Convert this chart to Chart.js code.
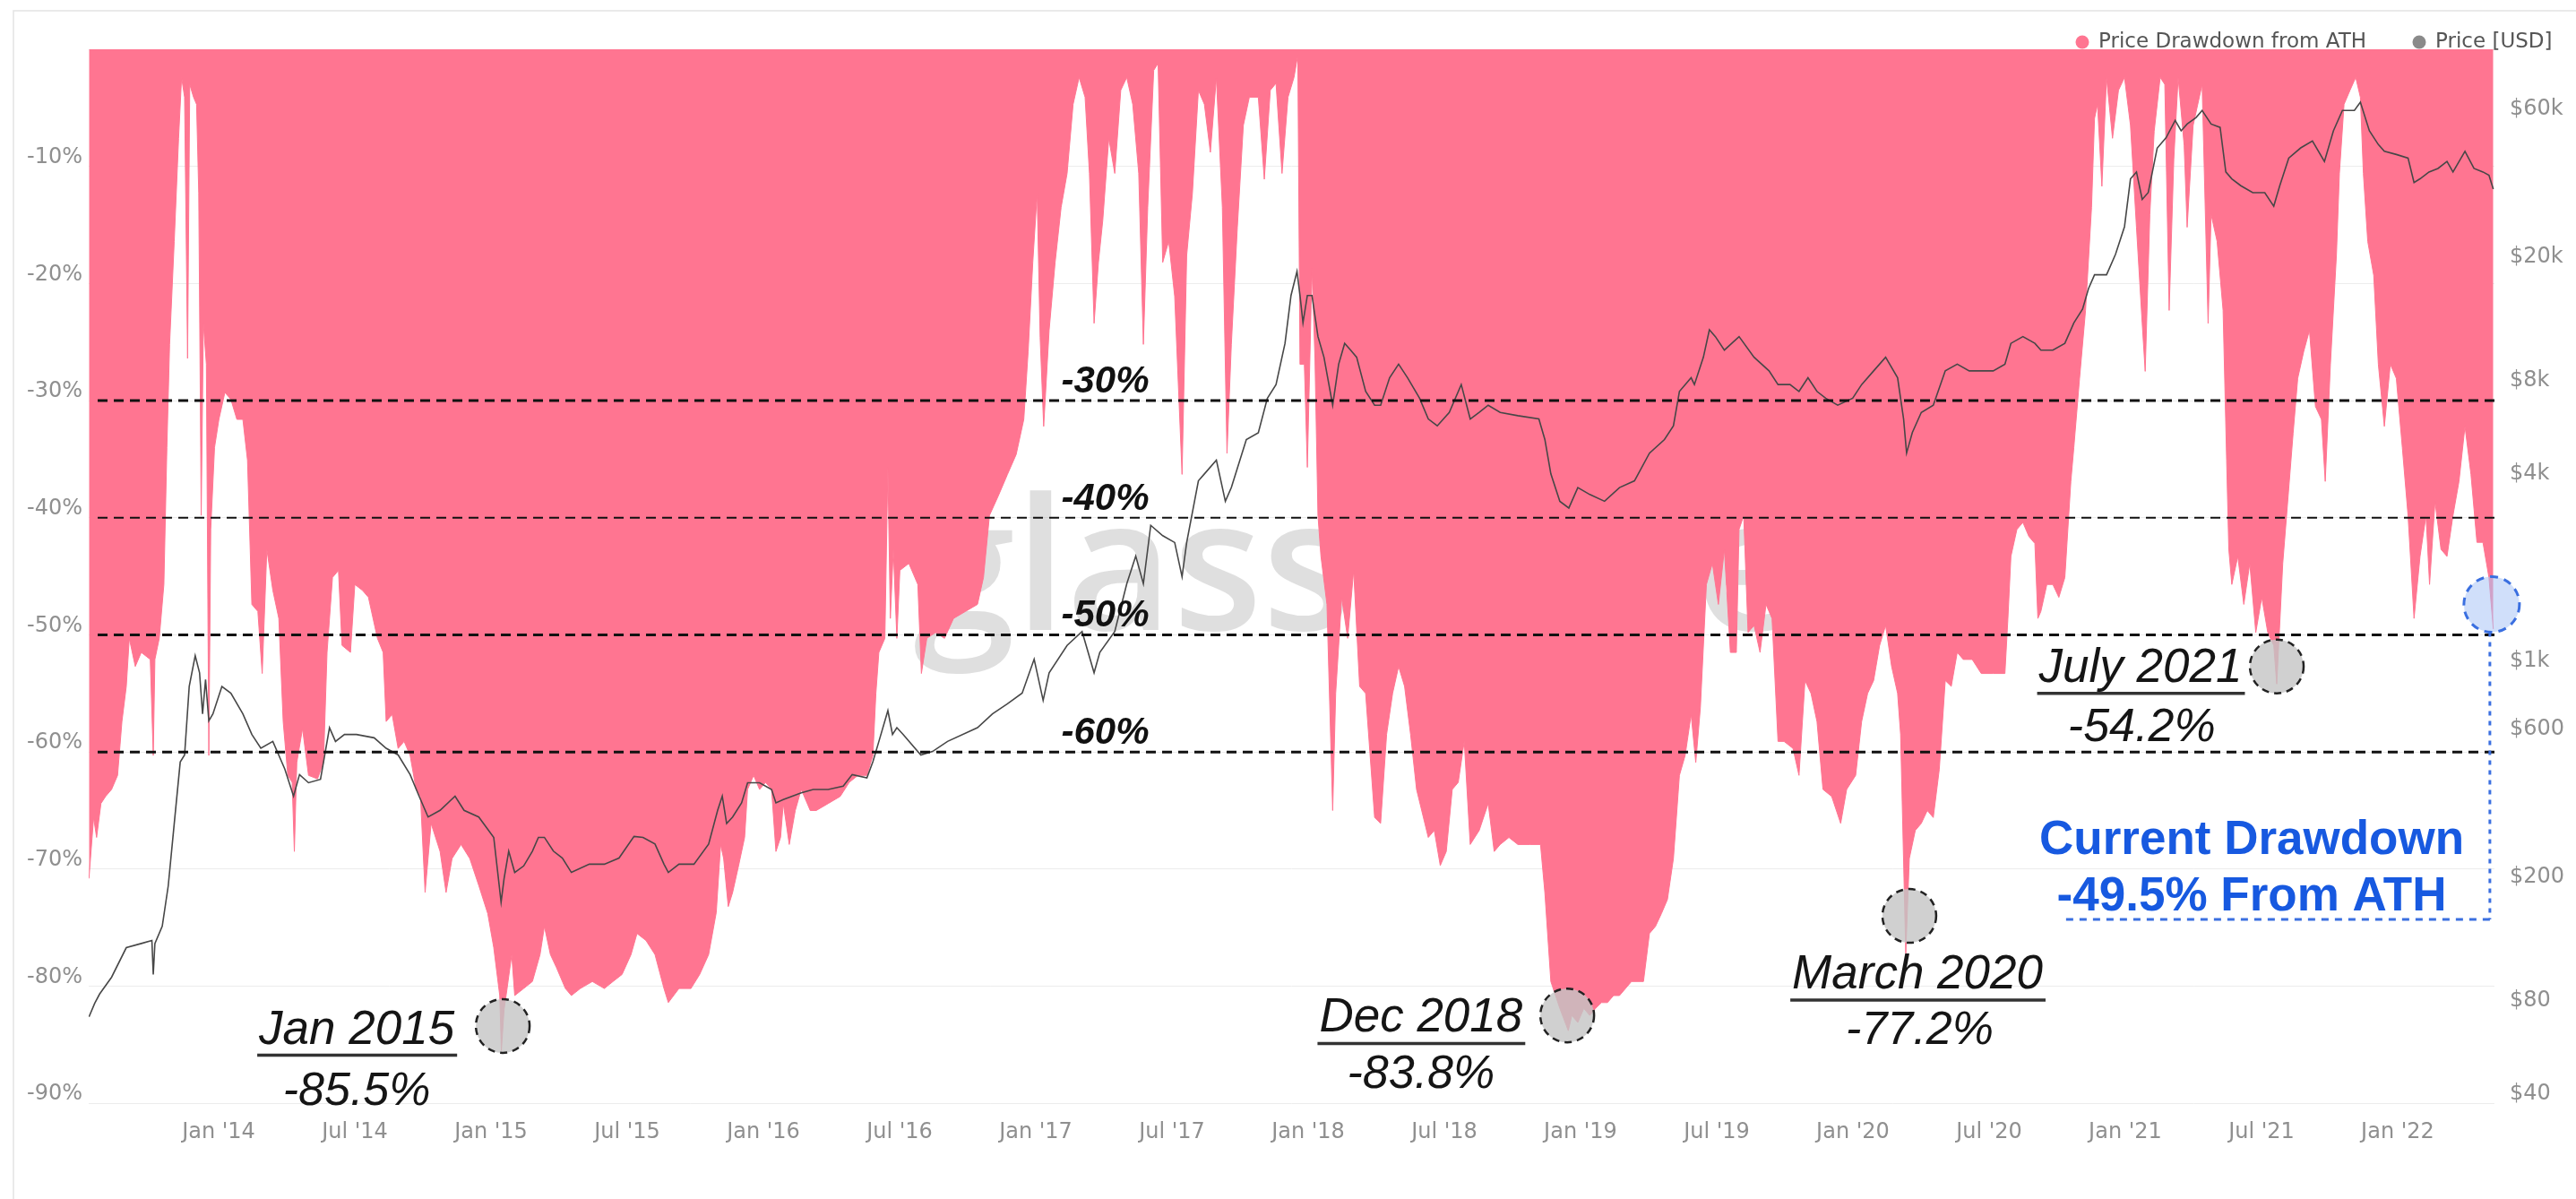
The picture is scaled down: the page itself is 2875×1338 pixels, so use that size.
<!DOCTYPE html>
<html>
<head>
<meta charset="utf-8">
<script src="https://cdn.jsdelivr.net/npm/chart.js@4.4.1/dist/chart.umd.min.js"></script>
<style>
  html, body { margin: 0; padding: 0; background: #fff; }
  canvas { display: block; }
</style>
</head>
<body>
<canvas id="chart" width="2875" height="1338"></canvas>
<script>
// x values are decimal years
const ddYears = [
  2013.524, 2013.541, 2013.552, 2013.568, 2013.585, 2013.607, 2013.629, 2013.645, 2013.661, 2013.672,
  2013.694, 2013.716, 2013.749, 2013.760, 2013.766, 2013.782, 2013.799, 2013.810, 2013.820, 2013.837,
  2013.853, 2013.864, 2013.875, 2013.886, 2013.894, 2013.908, 2013.919, 2013.927, 2013.936, 2013.944,
  2013.955, 2013.964, 2013.971, 2013.985, 2014.001, 2014.023, 2014.045, 2014.067, 2014.089, 2014.106,
  2014.122, 2014.144, 2014.160, 2014.177, 2014.199, 2014.221, 2014.237, 2014.254, 2014.270, 2014.278,
  2014.287, 2014.308, 2014.330, 2014.363, 2014.385, 2014.398, 2014.418, 2014.440, 2014.453, 2014.484,
  2014.500, 2014.528, 2014.550, 2014.583, 2014.604, 2014.615, 2014.637, 2014.659, 2014.681, 2014.703,
  2014.725, 2014.741, 2014.758, 2014.780, 2014.813, 2014.835, 2014.857, 2014.890, 2014.922, 2014.955,
  2014.988, 2015.010, 2015.032, 2015.038, 2015.048, 2015.059, 2015.076, 2015.087, 2015.120, 2015.152,
  2015.180, 2015.196, 2015.218, 2015.240, 2015.273, 2015.295, 2015.328, 2015.372, 2015.416, 2015.448,
  2015.481, 2015.514, 2015.536, 2015.569, 2015.602, 2015.635, 2015.651, 2015.690, 2015.734, 2015.766,
  2015.799, 2015.827, 2015.843, 2015.854, 2015.871, 2015.887, 2015.909, 2015.931, 2015.942, 2015.964,
  2015.986, 2016.008, 2016.030, 2016.046, 2016.063, 2016.073, 2016.095, 2016.117, 2016.139, 2016.172,
  2016.194, 2016.238, 2016.282, 2016.315, 2016.347, 2016.380, 2016.402, 2016.413, 2016.424, 2016.446,
  2016.457, 2016.466, 2016.477, 2016.490, 2016.501, 2016.534, 2016.567, 2016.580, 2016.600, 2016.632,
  2016.665, 2016.698, 2016.742, 2016.786, 2016.808, 2016.830, 2016.863, 2016.896, 2016.928, 2016.956,
  2016.972, 2016.989, 2017.005, 2017.016, 2017.029, 2017.049, 2017.071, 2017.093, 2017.115, 2017.137,
  2017.159, 2017.181, 2017.197, 2017.214, 2017.230, 2017.246, 2017.268, 2017.290, 2017.312, 2017.334,
  2017.356, 2017.378, 2017.395, 2017.411, 2017.433, 2017.449, 2017.466, 2017.488, 2017.510, 2017.537,
  2017.554, 2017.575, 2017.597, 2017.619, 2017.641, 2017.663, 2017.685, 2017.702, 2017.718, 2017.740,
  2017.762, 2017.784, 2017.817, 2017.839, 2017.861, 2017.882, 2017.904, 2017.926, 2017.948, 2017.962,
  2017.970, 2017.986, 2017.997, 2018.014, 2018.025, 2018.036, 2018.047, 2018.069, 2018.090, 2018.101,
  2018.123, 2018.145, 2018.167, 2018.189, 2018.211, 2018.244, 2018.266, 2018.288, 2018.310, 2018.332,
  2018.354, 2018.376, 2018.398, 2018.441, 2018.463, 2018.485, 2018.507, 2018.529, 2018.551, 2018.573,
  2018.595, 2018.628, 2018.661, 2018.683, 2018.705, 2018.737, 2018.770, 2018.814, 2018.853, 2018.869,
  2018.891, 2018.924, 2018.955, 2018.968, 2018.990, 2019.012, 2019.034, 2019.055, 2019.077, 2019.099,
  2019.121, 2019.143, 2019.187, 2019.231, 2019.253, 2019.275, 2019.297, 2019.319, 2019.341, 2019.363,
  2019.384, 2019.406, 2019.423, 2019.440, 2019.462, 2019.484, 2019.506, 2019.528, 2019.550, 2019.572,
  2019.582, 2019.599, 2019.615, 2019.637, 2019.659, 2019.681, 2019.703, 2019.725, 2019.747, 2019.780,
  2019.802, 2019.824, 2019.846, 2019.868, 2019.890, 2019.922, 2019.955, 2019.977, 2020.010, 2020.032,
  2020.054, 2020.076, 2020.098, 2020.120, 2020.142, 2020.164, 2020.175, 2020.194, 2020.207, 2020.229,
  2020.251, 2020.273, 2020.295, 2020.317, 2020.339, 2020.361, 2020.383, 2020.405, 2020.438, 2020.471,
  2020.515, 2020.558, 2020.569, 2020.580, 2020.602, 2020.624, 2020.646, 2020.668, 2020.679, 2020.690,
  2020.712, 2020.734, 2020.756, 2020.778, 2020.800, 2020.811, 2020.832, 2020.854, 2020.876, 2020.887,
  2020.898, 2020.914, 2020.931, 2020.953, 2020.975, 2020.997, 2021.019, 2021.041, 2021.062, 2021.073,
  2021.090, 2021.106, 2021.128, 2021.145, 2021.161, 2021.178, 2021.194, 2021.216, 2021.227, 2021.249,
  2021.282, 2021.304, 2021.315, 2021.337, 2021.359, 2021.372, 2021.380, 2021.391, 2021.413, 2021.435,
  2021.457, 2021.479, 2021.501, 2021.523, 2021.545, 2021.556, 2021.578, 2021.600, 2021.616, 2021.633,
  2021.655, 2021.676, 2021.698, 2021.720, 2021.734, 2021.753, 2021.775, 2021.786, 2021.803, 2021.825,
  2021.846, 2021.863, 2021.874, 2021.890, 2021.912, 2021.929, 2021.951, 2021.973, 2021.995, 2022.017,
  2022.038, 2022.060, 2022.082, 2022.104, 2022.117, 2022.137, 2022.159, 2022.181, 2022.203, 2022.225,
  2022.247, 2022.269, 2022.291, 2022.313, 2022.335, 2022.351
];
// drawdown from all-time high, %
const ddValues = [
  -70.8, -65.6, -67.3, -64.4, -63.8, -63.2, -62.0, -57.4, -54.4, -50.3,
  -52.7, -51.5, -52.1, -60.3, -52.1, -50.3, -45.7, -34.0, -25.2, -16.4,
  -7.6, -2.4, -4.1, -26.4, -3.0, -4.1, -4.7, -12.3, -39.8, -23.4,
  -26.9, -60.3, -41.0, -34.0, -31.6, -29.3, -29.9, -31.6, -31.6, -35.1,
  -47.4, -48.0, -53.3, -42.7, -46.2, -48.6, -57.4, -62.0, -62.6, -68.5,
  -60.9, -58.0, -62.0, -62.3, -60.9, -51.5, -45.1, -44.5, -50.9, -51.5,
  -45.7, -46.2, -46.8, -50.3, -51.5, -57.4, -56.8, -59.7, -59.1, -60.3,
  -63.2, -63.8, -72.0, -66.1, -68.5, -72.0, -69.1, -67.9, -69.1, -71.4,
  -73.8, -76.7, -80.8, -85.5, -82.0, -80.2, -77.3, -80.8, -80.2, -79.6,
  -77.3, -74.9, -77.3, -78.4, -80.2, -80.8, -80.2, -79.6, -80.2, -79.6,
  -79.0, -77.3, -75.5, -76.1, -77.3, -80.2, -81.4, -80.2, -80.2, -79.0,
  -77.3, -73.7, -67.9, -69.1, -73.2, -72.0, -69.7, -67.3, -63.2, -62.0,
  -63.2, -62.6, -63.2, -68.5, -67.3, -64.4, -67.9, -65.0, -63.2, -65.0,
  -65.0, -64.4, -63.8, -62.6, -62.0, -62.0, -60.3, -55.0, -51.5, -50.3,
  -35.7, -48.6, -42.7, -50.3, -44.5, -43.9, -45.7, -53.3, -50.3, -49.8,
  -50.3, -48.6, -48.0, -47.4, -45.1, -39.8, -38.1, -36.3, -34.6, -31.6,
  -25.8, -18.2, -12.3, -24.6, -32.2, -24.0, -18.2, -13.5, -10.6, -4.7,
  -2.4, -4.1, -10.6, -23.4, -18.2, -14.6, -7.6, -10.6, -3.5, -2.4,
  -4.7, -10.6, -25.2, -13.5, -1.8, -1.2, -18.2, -16.4, -21.1, -36.3,
  -17.6, -12.3, -3.5, -4.7, -8.8, -2.4, -13.5, -34.5, -25.2, -15.2,
  -6.5, -4.1, -4.1, -11.1, -3.5, -2.9, -10.6, -4.1, -2.4, -0.5,
  -26.9, -26.9, -35.7, -18.7, -26.4, -39.8, -43.3, -47.4, -65.0, -55.0,
  -46.8, -50.3, -44.5, -54.4, -55.0, -65.6, -66.1, -58.5, -55.0, -52.7,
  -54.4, -58.5, -63.2, -67.3, -66.7, -69.7, -68.5, -63.2, -62.6, -59.1,
  -67.9, -66.7, -64.4, -68.5, -67.9, -67.3, -67.9, -67.9, -67.9, -72.0,
  -79.6, -81.9, -83.8, -82.5, -83.1, -81.9, -82.5, -81.9, -81.4, -81.4,
  -80.8, -80.8, -79.6, -79.6, -75.5, -74.9, -73.8, -72.6, -69.1, -62.0,
  -60.3, -56.8, -60.9, -56.2, -45.7, -43.9, -47.4, -42.7, -51.5, -51.5,
  -41.0, -39.8, -49.8, -49.2, -51.5, -47.4, -48.6, -59.1, -59.1, -59.7,
  -62.0, -53.9, -55.0, -57.4, -63.2, -63.8, -66.1, -63.2, -62.0, -57.4,
  -55.0, -53.9, -50.9, -49.2, -52.7, -55.0, -58.5, -77.2, -69.1, -66.7,
  -66.1, -65.0, -65.6, -61.5, -53.9, -54.4, -51.5, -52.1, -52.1, -53.3,
  -53.3, -53.3, -48.6, -43.3, -41.0, -40.4, -41.6, -42.2, -48.6, -48.0,
  -45.7, -45.7, -46.8, -45.1, -36.9, -34.0, -28.1, -22.3, -13.5, -5.9,
  -4.7, -11.7, -2.4, -7.6, -3.5, -2.4, -6.5, -15.2, -23.4, -27.5,
  -14.1, -7.0, -2.4, -3.0, -22.3, -9.4, -2.4, -8.2, -15.2, -6.5,
  -3.0, -23.4, -14.1, -16.4, -22.3, -35.1, -42.7, -45.7, -43.3, -47.4,
  -43.9, -49.8, -46.8, -49.8, -50.9, -54.2, -43.9, -37.5, -32.8, -28.1,
  -25.8, -24.0, -30.5, -31.6, -36.9, -26.9, -17.6, -10.6, -4.7, -3.5,
  -2.4, -4.1, -10.6, -16.4, -19.3, -26.9, -32.2, -26.9, -28.1, -34.0,
  -39.8, -48.6, -43.3, -39.8, -45.7, -38.6, -42.7, -43.3, -39.8, -36.9,
  -32.2, -36.3, -42.1, -42.1, -45.1, -49.5
];

const priceYears = [
  2013.524, 2013.545, 2013.563, 2013.607, 2013.661, 2013.716, 2013.755, 2013.760, 2013.766, 2013.793,
  2013.815, 2013.837, 2013.859, 2013.875, 2013.892, 2013.914, 2013.930, 2013.941, 2013.952, 2013.964,
  2013.979, 2014.012, 2014.045, 2014.089, 2014.122, 2014.155, 2014.199, 2014.243, 2014.275, 2014.297,
  2014.330, 2014.374, 2014.407, 2014.429, 2014.462, 2014.506, 2014.571, 2014.615, 2014.659, 2014.703,
  2014.736, 2014.769, 2014.813, 2014.868, 2014.901, 2014.955, 2015.010, 2015.037, 2015.048, 2015.065,
  2015.087, 2015.120, 2015.152, 2015.174, 2015.196, 2015.229, 2015.262, 2015.295, 2015.361, 2015.416,
  2015.470, 2015.525, 2015.558, 2015.602, 2015.635, 2015.651, 2015.690, 2015.745, 2015.799, 2015.832,
  2015.849, 2015.865, 2015.887, 2015.920, 2015.942, 2015.986, 2016.030, 2016.046, 2016.073, 2016.139,
  2016.183, 2016.238, 2016.293, 2016.326, 2016.380, 2016.402, 2016.424, 2016.457, 2016.474, 2016.490,
  2016.512, 2016.578, 2016.621, 2016.676, 2016.786, 2016.841, 2016.896, 2016.950, 2016.994, 2017.027,
  2017.049, 2017.115, 2017.170, 2017.214, 2017.235, 2017.290, 2017.334, 2017.367, 2017.395, 2017.422,
  2017.466, 2017.510, 2017.537, 2017.554, 2017.597, 2017.619, 2017.663, 2017.696, 2017.718, 2017.773,
  2017.817, 2017.850, 2017.882, 2017.915, 2017.937, 2017.959, 2017.970, 2017.981, 2017.997, 2018.014,
  2018.036, 2018.058, 2018.090, 2018.112, 2018.134, 2018.156, 2018.178, 2018.211, 2018.244, 2018.266,
  2018.299, 2018.332, 2018.365, 2018.409, 2018.441, 2018.474, 2018.518, 2018.562, 2018.595, 2018.628,
  2018.661, 2018.705, 2018.770, 2018.847, 2018.869, 2018.891, 2018.924, 2018.957, 2018.990, 2019.034,
  2019.088, 2019.143, 2019.198, 2019.253, 2019.308, 2019.341, 2019.363, 2019.406, 2019.418, 2019.451,
  2019.473, 2019.495, 2019.528, 2019.582, 2019.637, 2019.692, 2019.725, 2019.769, 2019.802, 2019.835,
  2019.868, 2019.900, 2019.944, 2019.999, 2020.032, 2020.076, 2020.120, 2020.164, 2020.186, 2020.197,
  2020.218, 2020.251, 2020.295, 2020.339, 2020.383, 2020.427, 2020.471, 2020.515, 2020.558, 2020.580,
  2020.624, 2020.668, 2020.690, 2020.734, 2020.778, 2020.811, 2020.843, 2020.865, 2020.887, 2020.931,
  2020.942, 2020.964, 2020.997, 2021.019, 2021.041, 2021.062, 2021.084, 2021.117, 2021.150, 2021.183,
  2021.205, 2021.227, 2021.260, 2021.282, 2021.315, 2021.348, 2021.369, 2021.391, 2021.424, 2021.468,
  2021.512, 2021.545, 2021.567, 2021.600, 2021.644, 2021.687, 2021.731, 2021.764, 2021.797, 2021.841,
  2021.863, 2021.896, 2021.929, 2021.951, 2021.995, 2022.038, 2022.060, 2022.082, 2022.115, 2022.148,
  2022.181, 2022.203, 2022.247, 2022.280, 2022.313, 2022.335, 2022.351
];
// BTC price, USD
const priceValues = [
  76, 84, 90, 102, 127, 131, 134, 104, 131, 149,
  201, 319, 504, 531, 883, 1110, 977, 720, 929, 684,
  720, 883, 840, 720, 618, 558, 587, 478, 391, 459,
  432, 443, 650, 587, 618, 618, 603, 558, 531, 459,
  391, 335, 352, 391, 352, 335, 288, 178, 212, 260,
  222, 233, 260, 288, 288, 260, 247, 222, 236, 236,
  247, 290, 288, 274, 236, 222, 236, 236, 274, 352,
  391, 319, 335, 372, 432, 432, 411, 372, 381, 401,
  411, 411, 421, 459, 448, 505, 587, 738, 618, 650,
  620, 531, 545, 587, 650, 720, 776, 840, 1081, 796,
  977, 1197, 1327, 977, 1137, 1327, 1892, 2323, 1892, 2919,
  2704, 2570, 1994, 2570, 4064, 4276, 4740, 3490, 3865, 5521,
  5807, 7494, 8300, 11270, 16080, 19230, 16080, 13120, 16080, 16080,
  11850, 10170, 7120, 9660, 11270, 10720, 10170, 7890, 7120, 7120,
  8730, 9660, 8730, 7500, 6430, 6110, 6750, 8300, 6430, 6750,
  7120, 6750, 6590, 6430, 5520, 4276, 3490, 3320, 3865, 3670,
  3490, 3865, 4064, 4990, 5520, 6110, 7890, 8730, 8300, 10170,
  12470, 11850, 10720, 11850, 10170, 9190, 8300, 8300, 7890, 8730,
  7890, 7500, 7120, 7500, 8300, 9190, 10170, 8730, 6430, 4990,
  5810, 6750, 7120, 9190, 9660, 9190, 9190, 9190, 9660, 11270,
  11850, 11270, 10720, 10720, 11270, 13120, 14530, 16940, 18750, 18750,
  19710, 21830, 26800, 38230, 40230, 32830, 34500, 48000, 51900, 59000,
  54600, 57400, 60300, 63500, 57400, 56000, 40230, 38230, 36330, 34500,
  34500, 31200, 36330, 44600, 48100, 50600, 43500, 54600, 63500, 63500,
  67500, 54600, 49300, 46900, 45800, 44600, 37200, 38230, 40230, 41300,
  43500, 40230, 46900, 41300, 40230, 39260, 35400
];

const xTicks = [2014, 2014.5, 2015, 2015.5, 2016, 2016.5, 2017, 2017.5, 2018, 2018.5,
                2019, 2019.5, 2020, 2020.5, 2021, 2021.5, 2022];
const xTickLabels = ["Jan '14", "Jul '14", "Jan '15", "Jul '15", "Jan '16", "Jul '16", "Jan '17", "Jul '17", "Jan '18",
                     "Jul '18", "Jan '19", "Jul '19", "Jan '20", "Jul '20", "Jan '21", "Jul '21", "Jan '22"];
const priceTicks = [40, 80, 200, 600, 1000, 4000, 8000, 20000, 60000];
const priceTickLabels = ['$40', '$80', '$200', '$600', '$1k', '$4k', '$8k', '$20k', '$60k'];
const levelLines = [-30, -40, -50, -60];

// callouts, placed in data units (x: year, y: drawdown %)
const callouts = [
  { title: 'Jan 2015', value: '-85.5%', cx: 2015.043, cy: -83.4, tx: 2014.507, ty: -84.9, vx: 2014.507, vy: -90.1 },
  { title: 'Dec 2018', value: '-83.8%', cx: 2018.951, cy: -82.5, tx: 2018.414, ty: -83.9, vx: 2018.414, vy: -88.7 },
  { title: 'March 2020', value: '-77.2%', cx: 2020.207, cy: -74.0, tx: 2020.237, ty: -80.2, vx: 2020.245, vy: -84.9 },
  { title: 'July 2021', value: '-54.2%', cx: 2021.556, cy: -52.7, tx: 2021.056, ty: -54.0, vx: 2021.060, vy: -59.1 }
];
const current = { cx: 2022.345, cy: -47.4, tx: 2021.464, l1y: -68.7, l2y: -73.5, guideY: -74.3, guideX: 2020.766 };

const PINK = '#ff7591';
const tickFont = { family: '"DejaVu Sans", sans-serif', size: 24 };
const ANNO = '"Liberation Sans", Arial, sans-serif';

const decor = {
  id: 'decor',
  beforeDraw(chart) {
    const c = chart.ctx;
    c.save();
    c.fillStyle = '#fff';
    c.fillRect(0, 0, chart.width, chart.height);
    c.strokeStyle = '#e3e3e3';
    c.lineWidth = 1.5;
    c.beginPath();
    c.moveTo(15, chart.height);
    c.lineTo(15, 12);
    c.lineTo(chart.width, 12);
    c.stroke();
    c.restore();
  },
  beforeDatasetsDraw(chart) {
    // faint watermark, the pink area covers most of it
    const c = chart.ctx, x = chart.scales.x, y = chart.scales.y;
    c.save();
    c.font = '600 205px "Open Sans", sans-serif';
    c.fillStyle = 'rgba(150,150,150,0.3)';
    c.textBaseline = 'alphabetic';
    c.fillText('glassnode', x.getPixelForValue(2016.55), y.getPixelForValue(-49.6));
    c.restore();
  },
  afterDatasetsDraw(chart) {
    const c = chart.ctx, x = chart.scales.x, y = chart.scales.y, area = chart.chartArea;
    c.save();

    // dashed drawdown levels
    levelLines.forEach(lv => {
      const py = y.getPixelForValue(lv);
      c.setLineDash([11, 7]);
      c.strokeStyle = '#111';
      c.lineWidth = lv === -40 ? 2 : 3;
      c.beginPath();
      c.moveTo(area.left + 10, py);
      c.lineTo(area.right + 4, py);
      c.stroke();
      c.setLineDash([]);
      c.font = 'italic bold 42px ' + ANNO;
      c.fillStyle = '#111';
      c.textAlign = 'center';
      c.textBaseline = 'alphabetic';
      c.fillText(lv + '%', x.getPixelForValue(2017.255), py - 9);
    });

    // grey circles and labels at the troughs
    callouts.forEach(o => {
      const cx = x.getPixelForValue(o.cx), cy = y.getPixelForValue(o.cy);
      c.beginPath();
      c.arc(cx, cy, 30, 0, Math.PI * 2);
      c.fillStyle = 'rgba(196,196,196,0.8)';
      c.fill();
      c.setLineDash([8, 6]);
      c.lineWidth = 2.5;
      c.strokeStyle = '#222';
      c.stroke();
      c.setLineDash([]);

      c.fillStyle = '#151515';
      c.textAlign = 'center';
      c.textBaseline = 'alphabetic';
      const tx = x.getPixelForValue(o.tx), ty = y.getPixelForValue(o.ty);
      c.font = 'italic 53px ' + ANNO;
      c.fillText(o.title, tx, ty);
      const w = c.measureText(o.title).width;
      c.strokeStyle = '#333';
      c.lineWidth = 3.5;
      c.beginPath();
      c.moveTo(tx - w / 2 - 2, ty + 13);
      c.lineTo(tx + w / 2 + 3, ty + 13);
      c.stroke();
      c.font = 'italic 52px ' + ANNO;
      c.fillText(o.value, x.getPixelForValue(o.vx), y.getPixelForValue(o.vy));
    });

    // current drawdown marker
    const bx = x.getPixelForValue(current.cx), by = y.getPixelForValue(current.cy);
    const gy = y.getPixelForValue(current.guideY), gx = x.getPixelForValue(current.guideX);
    c.strokeStyle = '#3a6fe0';
    c.lineWidth = 3;
    c.setLineDash([5, 6]);
    c.beginPath();
    c.moveTo(bx - 2, by + 31);
    c.lineTo(bx - 2, gy);
    c.stroke();
    c.setLineDash([8, 7]);
    c.beginPath();
    c.moveTo(bx - 2, gy);
    c.lineTo(gx, gy);
    c.stroke();
    c.beginPath();
    c.arc(bx, by, 31, 0, Math.PI * 2);
    c.fillStyle = 'rgba(170,196,246,0.55)';
    c.fill();
    c.setLineDash([9, 7]);
    c.stroke();
    c.setLineDash([]);

    c.font = 'bold 53px ' + ANNO;
    c.fillStyle = '#1759e0';
    c.textAlign = 'center';
    const cx0 = x.getPixelForValue(current.tx);
    c.fillText('Current Drawdown', cx0, y.getPixelForValue(current.l1y));
    c.fillText('-49.5% From ATH', cx0, y.getPixelForValue(current.l2y));
    c.restore();
  },
  afterDraw(chart) {
    // legend, drawn by hand so it can sit over the top edge of the plot like the original
    const c = chart.ctx;
    const items = [[chart.data.datasets[1].label, PINK, 2324], [chart.data.datasets[0].label, '#8a8a8a', 2700]];
    c.save();
    c.font = '23px "DejaVu Sans", sans-serif';
    c.textBaseline = 'middle';
    c.textAlign = 'left';
    items.forEach(([text, color, px]) => {
      c.beginPath();
      c.arc(px, 47, 7.5, 0, Math.PI * 2);
      c.fillStyle = color;
      c.fill();
      c.fillStyle = '#555';
      c.fillText(text, px + 18, 47);
    });
    c.restore();
  }
};

new Chart(document.getElementById('chart'), {
  type: 'line',
  data: {
    datasets: [
      {
        label: 'Price [USD]',
        data: priceYears.map((yr, i) => ({ x: yr, y: priceValues[i] })),
        yAxisID: 'y2',
        borderColor: '#474747',
        borderWidth: 1.6,
        pointRadius: 0,
        fill: false,
        order: 0
      },
      {
        label: 'Price Drawdown from ATH',
        data: ddYears.map((yr, i) => ({ x: yr, y: ddValues[i] })),
        yAxisID: 'y',
        borderColor: PINK,
        borderWidth: 1,
        backgroundColor: PINK,
        fill: 'origin',
        pointRadius: 0,
        order: 1
      }
    ]
  },
  options: {
    responsive: false,
    animation: false,
    devicePixelRatio: 1,
    layout: { padding: { top: 55, left: 23, right: -4, bottom: 42 } },
    plugins: {
      legend: { display: false },
      tooltip: { enabled: false }
    },
    scales: {
      x: {
        type: 'linear',
        min: 2013.523,
        max: 2022.355,
        grid: { display: false, drawTicks: false },
        border: { display: false },
        afterBuildTicks: s => { s.ticks = xTicks.map(v => ({ value: v })); },
        ticks: {
          autoSkip: false,
          maxRotation: 0,
          padding: 18,
          font: tickFont,
          color: '#8f8f8f',
          callback: v => xTickLabels[xTicks.indexOf(v)]
        }
      },
      y: {
        type: 'linear',
        position: 'left',
        min: -90,
        max: 0,
        grid: { color: '#ececec', drawTicks: false },
        border: { display: false },
        ticks: {
          stepSize: 10,
          padding: 7,
          labelOffset: -10,
          font: tickFont,
          color: '#8f8f8f',
          callback: v => (v === 0 ? '' : v + '%')
        }
      },
      y2: {
        type: 'logarithmic',
        position: 'right',
        min: 40,
        max: 100000,
        grid: { display: false, drawTicks: false },
        border: { display: false },
        afterBuildTicks: s => { s.ticks = priceTicks.map(v => ({ value: v })); },
        ticks: {
          padding: 17,
          labelOffset: -10,
          font: tickFont,
          color: '#8f8f8f',
          callback: v => priceTickLabels[priceTicks.indexOf(v)]
        }
      }
    }
  },
  plugins: [decor]
});
</script>
</body>
</html>
